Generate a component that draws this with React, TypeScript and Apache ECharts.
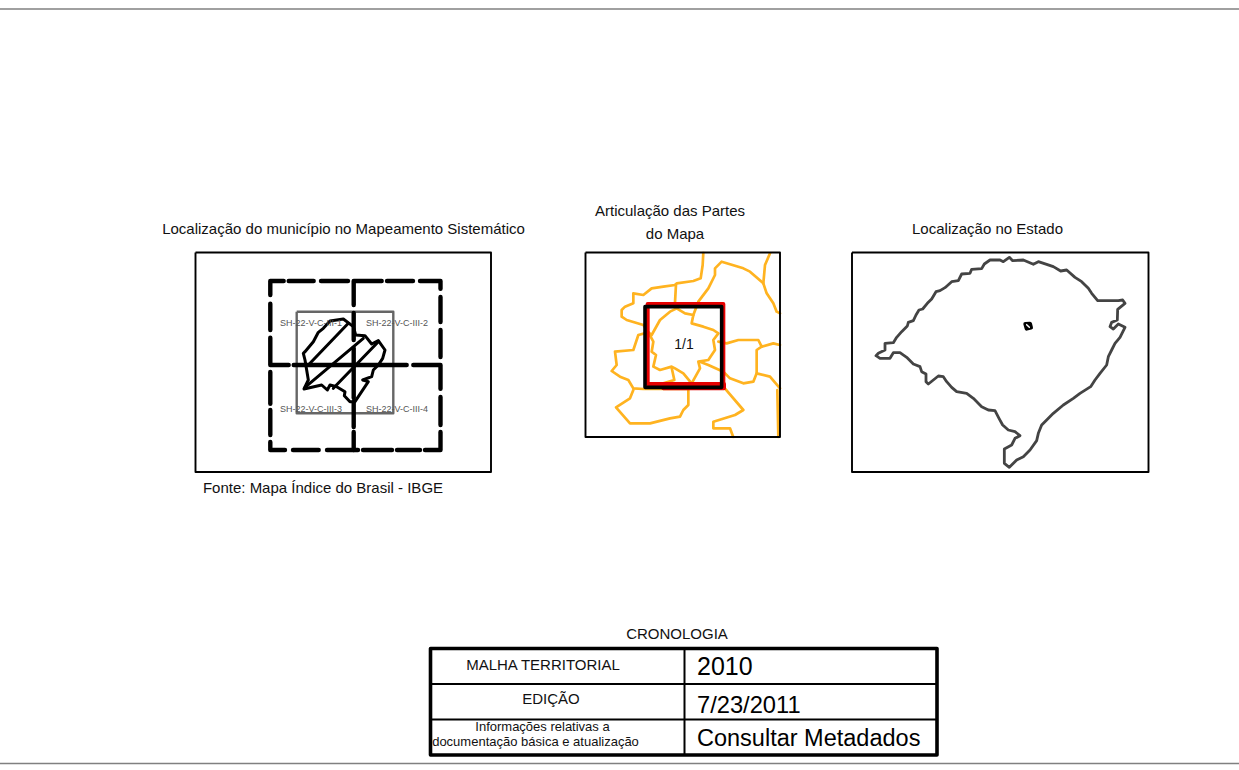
import React, { useEffect, useRef } from "react";
import * as echarts from "echarts";

type Pt = [number, number];

// Page frame: rules, panel frames and table, in page pixels
const pageRules: Pt[][] = [
  [[0, 9], [1239, 9]],
  [[0, 763.5], [1239, 763.5]],
];
const panelFrames: Pt[][] = [
  [[195.5, 252.5], [491, 252.5], [491, 472], [195.5, 472], [195.5, 252.5]],
  [[585.5, 252.5], [780, 252.5], [780, 437], [585.5, 437], [585.5, 252.5]],
  [[852, 252.5], [1148.5, 252.5], [1148.5, 472], [852, 472], [852, 252.5]],
];
const tableOuter: Pt[][] = [[[430.5, 648.5], [937, 648.5], [937, 755], [430.5, 755], [430.5, 648.5]]];
const tableInner: Pt[][] = [
  [[684.5, 648], [684.5, 755]],
  [[431, 684], [937, 684]],
  [[431, 719.5], [937, 719.5]],
];

// Mapping-grid dashes, page pixels
const sheetDashes: Pt[][] = [
  [[270.3, 295], [270.3, 281], [283.7, 281]],
  [[288.7, 281], [313.7, 281]],
  [[321, 281], [348, 281]],
  [[353.7, 305], [353.7, 281], [381.7, 281]],
  [[387, 281], [413, 281]],
  [[420, 281], [440.5, 281], [440.5, 288.7]],
  [[440.5, 297], [440.5, 322]],
  [[440.5, 330], [440.5, 357]],
  [[270.3, 303.7], [270.3, 330]],
  [[270.3, 337.7], [270.3, 365], [288.7, 365]],
  [[293.7, 365], [406.7, 365]],
  [[413.3, 365], [440.5, 365], [440.5, 388.7]],
  [[440.5, 397], [440.5, 425]],
  [[440.5, 432], [440.5, 450], [425, 450]],
  [[420, 450], [397, 450]],
  [[392, 450], [363, 450]],
  [[358, 450], [327, 450]],
  [[353.7, 450], [353.7, 432]],
  [[353.7, 427], [353.7, 402]],
  [[353.7, 398], [353.7, 348]],
  [[353.7, 340], [353.7, 313]],
  [[318.7, 450], [293, 450]],
  [[285, 450], [270.3, 450], [270.3, 442]],
  [[270.3, 435], [270.3, 410]],
  [[270.3, 403.7], [270.3, 372]],
];
const sheetSquare: Pt[][] = [[[296.7, 311.7], [393.3, 311.7], [393.3, 413.3], [296.7, 413.3], [296.7, 311.7]]];

// Municipality in the first panel
const municipality: Pt[] = [
  [340, 325], [345, 320], [370, 290], [385, 262], [400, 250], [420, 228], [460, 222], [490, 245], [497, 270],
  [525, 272], [545, 297], [565, 287], [585, 315], [578, 340], [565, 360], [550, 375], [545, 395], [518, 405],
  [535, 410], [515, 440], [495, 470], [480, 470], [463, 452], [465, 440], [440, 425], [420, 420], [412, 435],
  [395, 420], [342, 432], [355, 405], [350, 375], [345, 345], [340, 325],
];
const hatching: Pt[][] = [
  [[355, 360], [475, 235]],
  [[345, 427], [520, 280]],
  [[430, 430], [565, 290]],
];

// Orange boundaries of the second panel
const boundaries: Pt[][] = [
  [[370, 22], [368, 60], [362, 100], [340, 108], [290, 115], [285, 120], [250, 125], [215, 130], [190, 150], [160, 145], [160, 175], [135, 185], [125, 195], [125, 215], [140, 225], [190, 240], [205, 262], [175, 270], [160, 315], [105, 320], [110, 360], [95, 378], [120, 395], [145, 405], [160, 430], [190, 432], [250, 432], [325, 432]],
  [[288, 118], [285, 172]],
  [[160, 435], [150, 460], [108, 487], [150, 535], [210, 535], [270, 520], [300, 515], [310, 495], [325, 480], [325, 435]],
  [[290, 190], [270, 200], [240, 225], [215, 270], [205, 262], [220, 290], [215, 320], [228, 330], [220, 365], [240, 375], [275, 365], [285, 370], [310, 385], [335, 415], [360, 370], [355, 350], [385, 345], [405, 315], [400, 285], [415, 265], [400, 255], [370, 245], [335, 235], [340, 210], [315, 205], [290, 190]],
  [[275, 368], [283, 405], [250, 415]],
  [[335, 415], [330, 430]],
  [[340, 210], [355, 170], [385, 130], [405, 90], [405, 70], [425, 50], [490, 70], [510, 80], [550, 115], [560, 145], [580, 175], [590, 200], [600, 205]],
  [[550, 115], [555, 60], [570, 25]],
  [[415, 290], [440, 295], [475, 285], [535, 285], [545, 305], [580, 295], [600, 300]],
  [[545, 305], [530, 315], [530, 385], [520, 410], [490, 415], [450, 400], [430, 380], [385, 360], [360, 350]],
  [[530, 385], [570, 395], [600, 430]],
  [[430, 425], [490, 495], [465, 510], [400, 530], [400, 550], [450, 550], [460, 577]],
  [[592, 435], [595, 577]],
];
const redSquare: Pt[][] = [[[203, 177], [430, 177], [430, 417], [203, 417], [203, 177]], [[250, 430], [432, 430], [432, 417]]];
const blackSquare: Pt[][] = [[[195, 185], [425, 185], [425, 427], [195, 427], [195, 185]]];

// State outline of the third panel
const stateOutline: Pt[] = [
  [78, 317], [85, 310], [105, 300], [105, 280], [130, 278], [140, 262], [155, 245], [172, 228], [175, 217], [190, 212],
  [198, 195], [207, 180], [218, 177], [232, 160], [245, 147], [258, 125], [270, 122], [285, 113], [305, 95], [325, 92],
  [335, 72], [360, 70], [365, 58], [395, 56], [403, 42], [420, 30], [450, 30], [460, 35], [478, 22], [488, 32],
  [520, 30], [550, 43], [565, 35], [590, 43], [610, 50], [632, 63], [650, 60], [675, 82], [695, 95], [715, 115],
  [725, 130], [743, 152], [805, 152], [818, 150], [825, 160], [803, 178], [802, 210], [785, 217], [780, 230], [790, 237],
  [805, 222], [825, 232], [810, 262], [795, 280], [785, 300], [775, 320], [770, 345], [750, 370], [735, 390], [722, 410],
  [690, 430], [670, 445], [640, 465], [610, 490], [590, 510], [575, 525], [565, 550], [560, 572], [540, 600], [520, 620],
  [500, 630], [478, 652], [463, 640], [463, 597], [485, 585], [495, 565], [510, 557], [495, 545], [475, 540], [458, 525],
  [447, 505], [435, 482], [415, 480], [395, 470], [370, 445], [350, 430], [320, 425], [305, 412], [290, 395], [280, 380],
  [265, 378], [235, 402], [228, 395], [228, 372], [215, 365], [210, 350], [190, 342], [170, 322], [150, 308], [130, 308],
  [120, 325], [90, 325], [78, 317],
];
const stateMarker: Pt[] = [[526, 222], [540, 221], [543, 233], [530, 236], [526, 222]];
const stateMarkerHole: Pt[] = [[530, 224], [538, 232]];

// Texts
const panelTitles = [
  "Localização do município no Mapeamento Sistemático",
  "Articulação das Partes",
  "do Mapa",
  "Localização no Estado",
];
const sheetLabels = ["SH-22-V-C-III-1", "SH-22-V-C-III-2", "SH-22-V-C-III-3", "SH-22-V-C-III-4"];
const sourceNote = "Fonte: Mapa Índice do Brasil - IBGE";
const partLabel = "1/1";
const tableTitle = "CRONOLOGIA";
const rowLabels = ["MALHA TERRITORIAL", "EDIÇÃO", "Informações relativas a", "documentação básica e atualização"];
const rowValues = ["2010", "7/23/2011", "Consultar Metadados"];

const FONT = "'Liberation Sans', Arial, sans-serif";

function lineSeries(grid: number, paths: Pt[][], color: string, width: number, cap = "round") {
  return paths.map((data) => ({
    type: "line",
    xAxisIndex: grid,
    yAxisIndex: grid,
    data,
    showSymbol: false,
    symbol: "none",
    silent: true,
    clip: true,
    lineStyle: { color, width, cap, join: "round" },
  }));
}

function txt(text: string, x: number, y: number, fontSize: number, align = "center", fill = "#111111") {
  return {
    type: "text",
    x,
    y,
    z: 50,
    silent: true,
    style: { text, fontSize, fontFamily: FONT, fill, align, verticalAlign: "middle" },
  };
}

export default function App() {
  const ref = useRef<HTMLDivElement>(null);
  useEffect(() => {
    const chart = echarts.init(ref.current!, undefined, { renderer: "svg" });
    const axisOff = { type: "value", show: false, scale: true };
    const frames = [
      { left: 0, top: 0, width: 1239, height: 770, x: [0, 1239], y: [0, 770] },
      { left: 190, top: 245, width: 310, height: 235, x: [0, 930], y: [0, 705] },
      { left: 586, top: 253, width: 194, height: 184, x: [18, 600], y: [24, 576] },
      { left: 850, top: 250, width: 300, height: 225, x: [0, 900], y: [0, 675] },
    ];
    chart.setOption({
      animation: false,
      backgroundColor: "#ffffff",
      grid: frames.map((f) => ({ left: f.left, top: f.top, width: f.width, height: f.height, containLabel: false })),
      xAxis: frames.map((f, i) => ({ ...axisOff, gridIndex: i, min: f.x[0], max: f.x[1] })),
      yAxis: frames.map((f, i) => ({ ...axisOff, gridIndex: i, min: f.y[0], max: f.y[1], inverse: true })),
      series: [
        ...lineSeries(0, pageRules, "#808080", 1.4, "butt"),
        ...lineSeries(2, boundaries, "#FFB320", 2.7),
        ...lineSeries(2, redSquare, "#E60000", 4),
        ...lineSeries(2, blackSquare, "#000000", 3.6),
        ...lineSeries(0, sheetSquare, "#666666", 2.4, "butt"),
        ...lineSeries(1, [municipality, ...hatching], "#000000", 3),
        ...lineSeries(0, sheetDashes, "#000000", 4.4),
        ...lineSeries(3, [stateOutline], "#444444", 2.8),
        ...lineSeries(3, [stateMarker], "#000000", 4),
        ...lineSeries(3, [stateMarkerHole], "#ffffff", 1.5),
        ...lineSeries(0, panelFrames, "#000000", 1.9, "butt"),
        ...lineSeries(0, tableOuter, "#000000", 3.6),
        ...lineSeries(0, tableInner, "#000000", 2, "butt"),
      ],
      graphic: [
        txt(panelTitles[0], 343.5, 228, 15),
        txt(panelTitles[1], 670, 210, 15),
        txt(panelTitles[2], 675, 233, 15),
        txt(panelTitles[3], 987.5, 228, 15),
        txt(sheetLabels[0], 311, 323, 9, "center", "#555555"),
        txt(sheetLabels[1], 397, 323, 9, "center", "#555555"),
        txt(sheetLabels[2], 311, 408.5, 9, "center", "#555555"),
        txt(sheetLabels[3], 397, 408.5, 9, "center", "#555555"),
        txt(sourceNote, 323, 487, 15),
        txt(partLabel, 684, 344, 14),
        txt(tableTitle, 677, 633, 15),
        txt(rowLabels[0], 543, 664, 15),
        txt(rowLabels[1], 551, 698, 15),
        txt(rowLabels[2], 542.5, 726, 13),
        txt(rowLabels[3], 535.5, 741, 13),
        txt(rowValues[0], 697, 665.5, 25, "left", "#000000"),
        txt(rowValues[1], 697, 704.5, 23.7, "left", "#000000"),
        txt(rowValues[2], 697, 737.5, 23.5, "left", "#000000"),
      ],
    });
    return () => chart.dispose();
  }, []);
  return <div ref={ref} style={{ position: "fixed", left: 0, top: 0, width: 1239, height: 770, background: "#fff" }} />;
}
